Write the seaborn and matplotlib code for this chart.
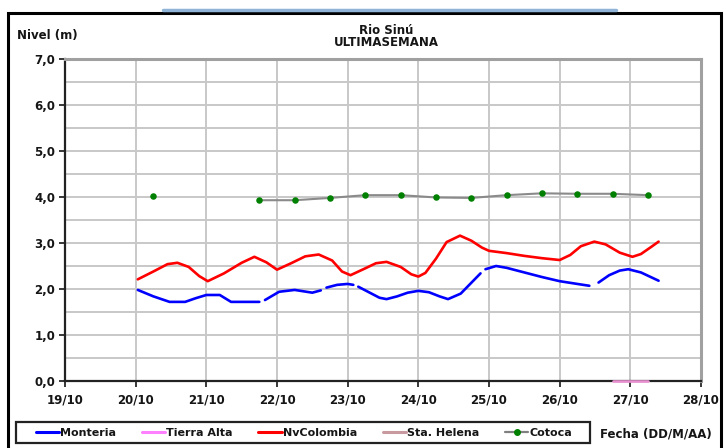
import numpy as np
import pandas as pd
import matplotlib
matplotlib.use("Agg")
import matplotlib.pyplot as plt
from matplotlib.lines import Line2D
from matplotlib.patches import Rectangle
import seaborn as sns

# ---------------- data (days since 19/10) ----------------
x_ticklabels = ["19/10", "20/10", "21/10", "22/10", "23/10", "24/10", "25/10", "26/10", "27/10", "28/10"]
y_ticklabels = ["0,0", "1,0", "2,0", "3,0", "4,0", "5,0", "6,0", "7,0"]

# Monteria (segments separated by gaps in the record)
monteria_seg = [1, 1, 1, 1, 1, 1, 1, 1, 1,
                2, 2, 2, 2, 2,
                3, 3, 3, 3,
                4, 4, 4, 4, 4, 4, 4, 4, 4, 4, 4, 4,
                5, 5, 5, 5, 5, 5, 5, 5,
                6, 6, 6, 6, 6, 6]
monteria_day = [1.03, 1.25, 1.48, 1.70, 1.85, 2.0, 2.19, 2.35, 2.75,
                2.83, 3.03, 3.25, 3.5, 3.62,
                3.70, 3.85, 4.0, 4.08,
                4.15, 4.3, 4.45, 4.55, 4.7, 4.85, 5.0, 5.15, 5.3, 5.42, 5.6, 5.88,
                5.95, 6.1, 6.25, 6.5, 6.75, 7.0, 7.25, 7.42,
                7.55, 7.7, 7.85, 7.97, 8.15, 8.4]
monteria_val = [1.98, 1.84, 1.72, 1.72, 1.80, 1.87, 1.87, 1.72, 1.72,
                1.76, 1.94, 1.98, 1.92, 1.97,
                2.03, 2.09, 2.11, 2.09,
                2.05, 1.93, 1.81, 1.78, 1.84, 1.92, 1.96, 1.93, 1.84, 1.78, 1.90, 2.34,
                2.43, 2.50, 2.46, 2.36, 2.26, 2.17, 2.11, 2.07,
                2.14, 2.30, 2.40, 2.43, 2.36, 2.18]

# NvColombia
nvcol_day = [1.03, 1.25, 1.45, 1.59, 1.75, 1.9, 2.02, 2.25, 2.5, 2.68, 2.85,
             3.0, 3.2, 3.4, 3.59, 3.78, 3.92, 4.04, 4.25, 4.4, 4.55, 4.75, 4.9,
             5.0, 5.1, 5.25, 5.4, 5.59, 5.75, 5.9, 6.0, 6.25, 6.5, 6.75, 7.0,
             7.15, 7.3, 7.49, 7.65, 7.85, 8.03, 8.15, 8.3, 8.4]
nvcol_val = [2.21, 2.38, 2.54, 2.57, 2.48, 2.28, 2.17, 2.34, 2.57, 2.70, 2.58,
             2.42, 2.56, 2.71, 2.75, 2.62, 2.38, 2.30, 2.45, 2.56, 2.59, 2.48, 2.32,
             2.27, 2.35, 2.66, 3.02, 3.16, 3.05, 2.90, 2.83, 2.78, 2.72, 2.67, 2.63,
             2.74, 2.93, 3.03, 2.97, 2.79, 2.70, 2.76, 2.92, 3.03]

# Tierra Alta
tierra_day = [7.75, 8.0, 8.25]
tierra_val = [0.0, 0.0, 0.0]

# Sta. Helena (no data in the period)
helena_day = []
helena_val = []

# Cotoca
cotoca_seg = [1, 2, 2, 2, 2, 2, 2, 2, 2, 2, 2, 2, 2]
cotoca_day = [1.25, 2.75, 3.25, 3.75, 4.25, 4.75, 5.25, 5.75, 6.25, 6.75, 7.25, 7.75, 8.25]
cotoca_val = [4.02, 3.93, 3.93, 3.98, 4.04, 4.04, 3.99, 3.98, 4.04, 4.08, 4.07, 4.07, 4.04]

# ---------------- style ----------------
sns.set_theme(style="white")
plt.rcParams['font.family'] = ['DejaVu Sans']
plt.rcParams['font.weight'] = 'bold'
FS = 8.5
TXT = "#151515"

W, H = 726, 448
fig = plt.figure(figsize=(W / 100, H / 100), dpi=100)
ax = fig.add_axes([65 / W, 1 - 381 / H, (701 - 65) / W, (381 - 59) / H])

mon_df = pd.DataFrame({"day": monteria_day, "val": monteria_val, "seg": monteria_seg})
nv_df = pd.DataFrame({"day": nvcol_day, "val": nvcol_val})
ta_df = pd.DataFrame({"day": tierra_day, "val": tierra_val})
co_df = pd.DataFrame({"day": cotoca_day, "val": cotoca_val, "seg": cotoca_seg})

lw = 1.9
kw = dict(solid_joinstyle="round", solid_capstyle="round")
sns.lineplot(data=mon_df, x="day", y="val", units="seg", estimator=None, ax=ax,
             color="#0000ff", lw=lw, legend=False, sort=False, **kw)
sns.lineplot(data=nv_df, x="day", y="val", ax=ax, color="#ff0000", lw=lw,
             legend=False, sort=False, **kw)
sns.lineplot(data=ta_df, x="day", y="val", ax=ax, color="#e890d0", lw=lw,
             legend=False, sort=False, clip_on=False, zorder=10)
sns.lineplot(data=co_df, x="day", y="val", units="seg", estimator=None, ax=ax,
             color="#8a8a8a", lw=1.5, legend=False, sort=False)
sns.scatterplot(data=co_df, x="day", y="val", ax=ax, color="#008000", s=22,
                edgecolor="#008000", linewidth=0, zorder=5, legend=False)
ax.plot(helena_day, helena_val, color="#c89aa0", lw=lw)

ax.set_xlim(0, 9)
ax.set_ylim(0, 7)
ax.set_xticks(range(len(x_ticklabels)))
ax.set_xticklabels(x_ticklabels)
ax.set_yticks(range(len(y_ticklabels)))
ax.set_yticklabels(y_ticklabels)
ax.set_yticks(np.arange(0.5, 7, 1.0), minor=True)
ax.set_xlabel("")
ax.set_ylabel("")
ax.grid(True, which="both", color="#c8c8c8", lw=1.4)
ax.set_axisbelow(True)
ax.tick_params(axis="both", which="major", labelsize=FS, colors=TXT,
               length=4, width=1.2, direction="out", pad=3)
ax.tick_params(axis="x", pad=5)
ax.tick_params(axis="both", which="minor", length=0)
ax.tick_params(left=True, bottom=True)
for lab in ax.get_xticklabels() + ax.get_yticklabels():
    lab.set_fontweight("bold")

for s in ["left", "bottom"]:
    ax.spines[s].set_color("#222222")
    ax.spines[s].set_linewidth(1.6)
for s in ["top", "right"]:
    ax.spines[s].set_color("#a0a0a0")
    ax.spines[s].set_linewidth(2.2)

# texts
fig.text(17 / W, 1 - 35 / H, "Nivel (m)", fontsize=FS, fontweight="bold",
         ha="left", va="center", color=TXT)
fig.text(386 / W, 1 - 30 / H, "Rio Sinú", fontsize=FS, fontweight="bold",
         ha="center", va="center", color=TXT)
fig.text(386 / W, 1 - 43 / H, "ULTIMASEMANA", fontsize=FS, fontweight="bold",
         ha="center", va="center", color=TXT)
fig.text(600 / W, 1 - 434 / H, "Fecha (DD/M/AA)", fontsize=FS, fontweight="bold",
         ha="left", va="center", color=TXT)

# outer frame + top strip
fig.add_artist(Rectangle((8 / W, -0.01), (721 - 8) / W, 1 - 13 / H + 0.01,
                         transform=fig.transFigure, fill=False,
                         edgecolor="#000000", lw=2.2))
fig.add_artist(Line2D([163 / W, 616 / W], [1 - 10 / H, 1 - 10 / H],
                      transform=fig.transFigure, color="#8fb4d8", lw=2.5))

# legend
handles = [
    Line2D([], [], color="#0000ff", lw=2.2),
    Line2D([], [], color="#ff80ff", lw=2.2),
    Line2D([], [], color="#ff0000", lw=2.2),
    Line2D([], [], color="#c89aa0", lw=2.2),
    Line2D([], [], color="#808080", lw=1.6, marker="o", markersize=4,
           markerfacecolor="#008000", markeredgecolor="#008000"),
]
labels = ["Monteria", "Tierra Alta", "NvColombia", "Sta. Helena", "Cotoca"]
leg = fig.legend(handles, labels, loc="center", ncol=5,
                 bbox_to_anchor=(304 / W, 1 - 433 / H),
                 prop={"size": 8, "weight": "bold"}, frameon=False,
                 handlelength=2.1, handletextpad=0.1, columnspacing=2.3,
                 borderpad=0.3)
for t in leg.get_texts():
    t.set_color(TXT)
fig.add_artist(Rectangle((16 / W, 1 - 443 / H), (590 - 16) / W, 21 / H,
                         transform=fig.transFigure, fill=False,
                         edgecolor="#222222", lw=1.6))

fig.savefig("out.png", dpi=100)
